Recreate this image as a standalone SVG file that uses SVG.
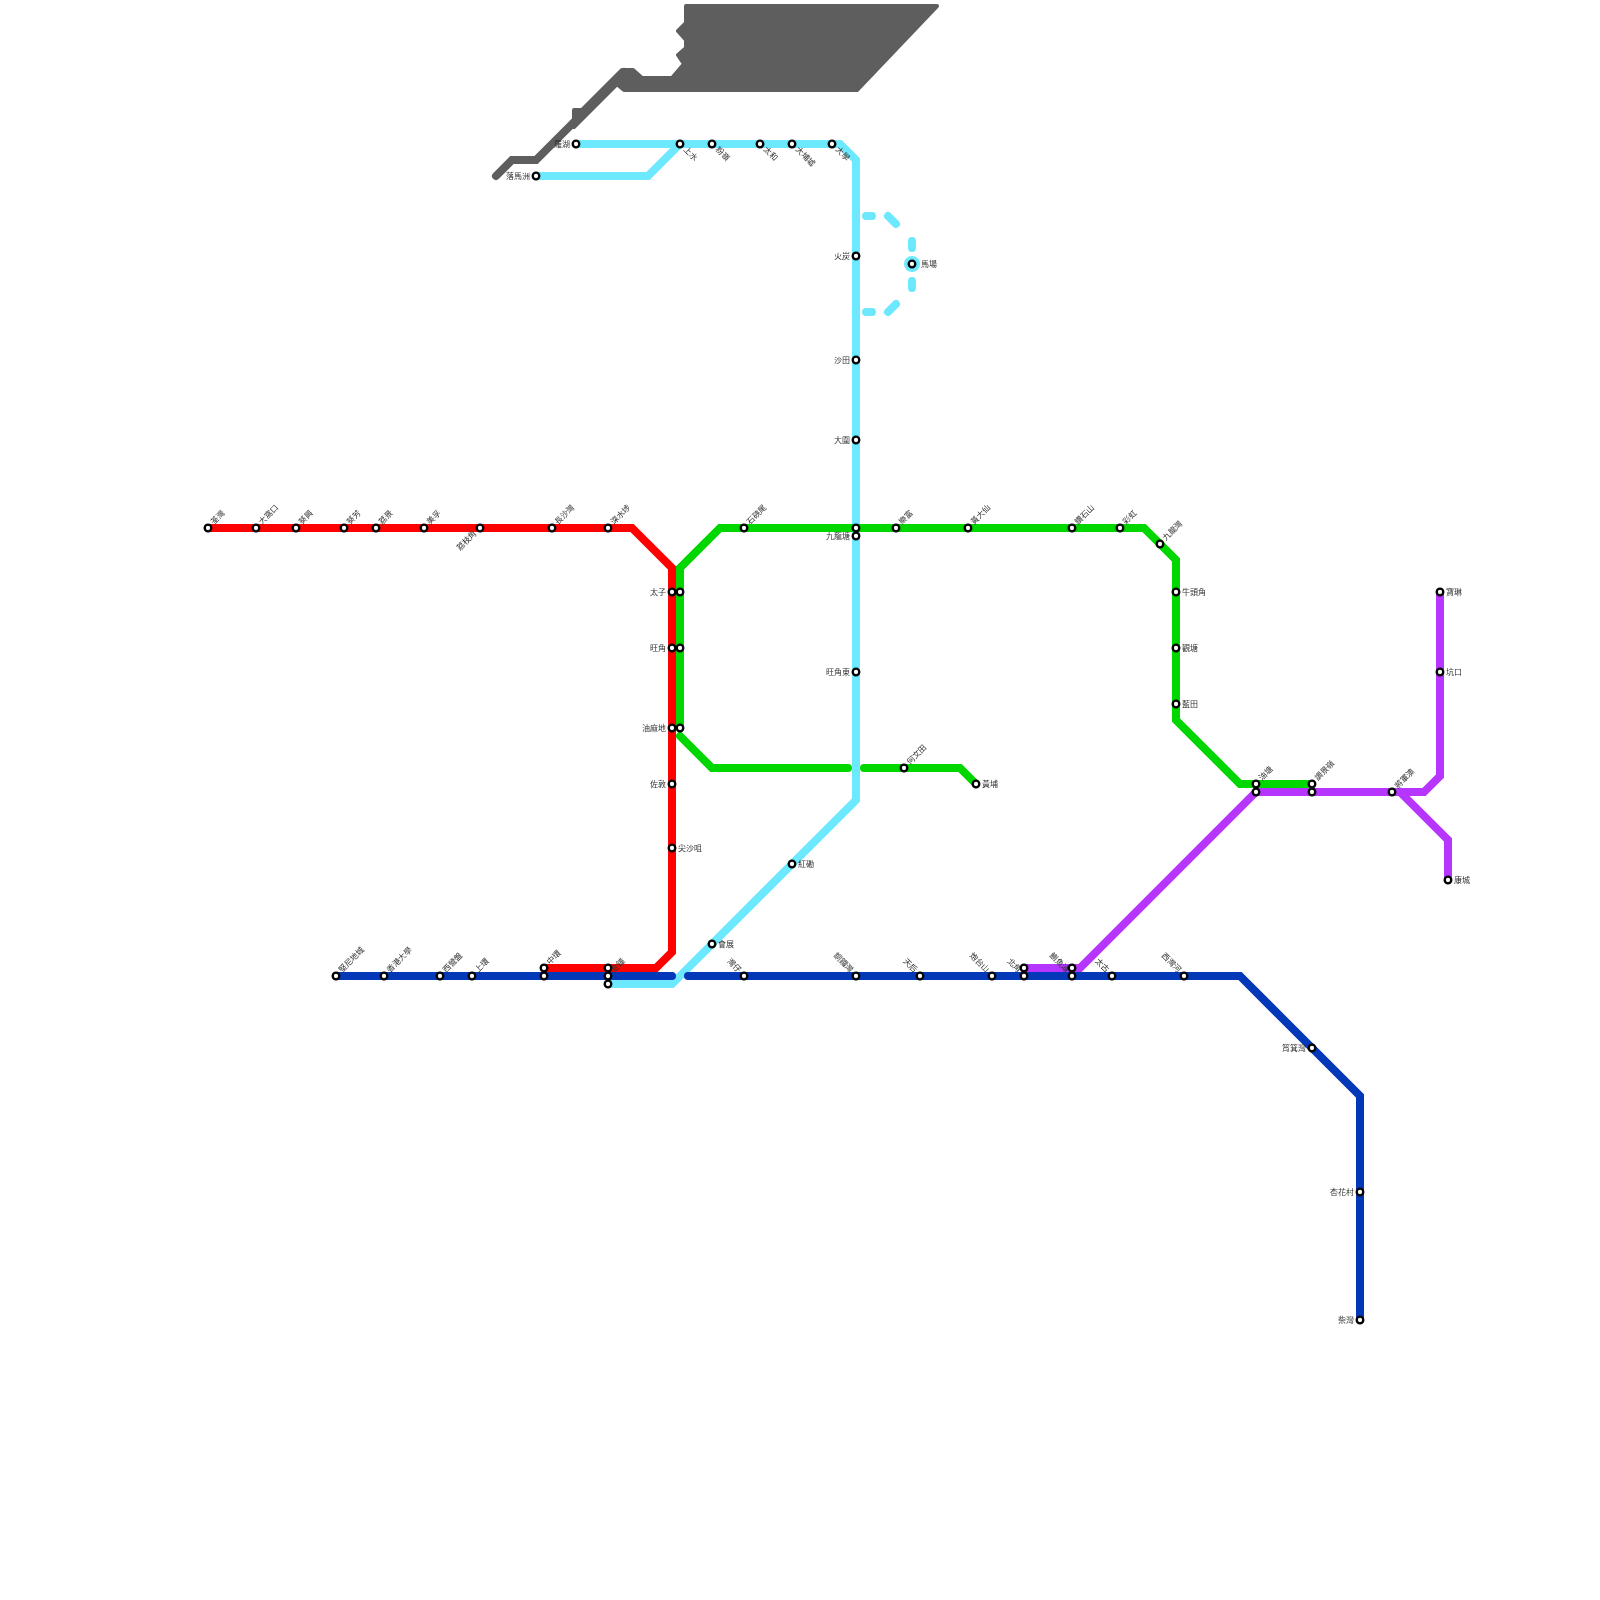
<svg xmlns="http://www.w3.org/2000/svg" width="1600" height="1600" viewBox="0 0 1600 1600">
<style>
text{font-family:"Noto Sans CJK TC","Noto Sans CJK SC",sans-serif;font-size:8px;fill:#333}
.l{fill:none;stroke-width:8;stroke-linecap:round;stroke-linejoin:miter}
.gray{stroke:#5e5e5e}.cyan{stroke:#6ce8ff}.red{stroke:#ff0000}.green{stroke:#00d600}.blue{stroke:#0338b8}.purple{stroke:#b636ff}
#stations{opacity:.999}
.st circle{fill:#fff;stroke:#000;stroke-width:2.3}
.r{transform:translate(6px,3px)}
.rr{transform:translate(9px,3px)}
.w{text-anchor:end;transform:translate(-6px,3px)}
.ur{transform:translate(6px,-3px) rotate(-45deg)}
.dr{transform:translate(3px,6px) rotate(45deg)}
.ul{text-anchor:end;transform:translate(-6px,-3px) rotate(45deg)}
.dl{text-anchor:end;transform:translate(-3px,6px) rotate(-45deg)}
</style>
<g id="connectors">
<path class="l gray" d="M496 176L512 160H536L624 72"/>
<path fill="#5e5e5e" stroke="#5e5e5e" stroke-width="4" stroke-linejoin="round" d="M686 6H937L857 90H624L617 84L574 127V110H582L622 70H633L642 78H672L684 64L678 55L686 48V40L678 31L686 23Z"/>
<path class="l cyan" d="M576 144H840L856 160V800L672 984H608"/>
<path class="l cyan" d="M536 176H648L680 144"/>
<path class="l cyan" d="M866 216H872M888 216L896 224M912 241V248M912 281V288M896 304L888 312M872 312H866"/>
<path class="l red" d="M208 528H632L672 568V952L656 968H544"/>
<path class="l green" d="M680 728V568L720 528H1144L1176 560V720L1240 784H1312"/>
<path class="l green" d="M680 736L712 768H848M864 768H960L976 784"/>
<path class="l blue" d="M336 976H672M688 976H1240L1360 1096V1320"/>
<path class="l purple" d="M1024 968H1080L1256 792H1424L1440 776V592"/>
<path class="l purple" d="M1400 792L1448 840V880"/>
</g>
<circle cx="912" cy="264" r="8" fill="#6ce8ff"/>
<g id="stations" class="st">
<g id="s01" transform="translate(208,528)"><circle r="3.3"/><text class="ur">荃灣</text></g>
<g id="s02" transform="translate(256,528)"><circle r="3.3"/><text class="ur">大窩口</text></g>
<g id="s03" transform="translate(296,528)"><circle r="3.3"/><text class="ur">葵興</text></g>
<g id="s04" transform="translate(344,528)"><circle r="3.3"/><text class="ur">葵芳</text></g>
<g id="s05" transform="translate(376,528)"><circle r="3.3"/><text class="ur">荔景</text></g>
<g id="s06" transform="translate(424,528)"><circle r="3.3"/><text class="ur">美孚</text></g>
<g id="s07" transform="translate(480,528)"><circle r="3.3"/><text class="dl">荔枝角</text></g>
<g id="s08" transform="translate(552,528)"><circle r="3.3"/><text class="ur">長沙灣</text></g>
<g id="s09" transform="translate(608,528)"><circle r="3.3"/><text class="ur">深水埗</text></g>
<g id="s10" transform="translate(672,592)"><circle r="3.3"/><text class="w">太子</text></g>
<g id="s11" transform="translate(672,648)"><circle r="3.3"/><text class="w">旺角</text></g>
<g id="s12" transform="translate(672,728)"><circle r="3.3"/><text class="w">油麻地</text></g>
<g id="s13" transform="translate(672,784)"><circle r="3.3"/><text class="w">佐敦</text></g>
<g id="s14" transform="translate(672,848)"><circle r="3.3"/><text class="r">尖沙咀</text></g>
<g id="s15" transform="translate(544,968)"><circle r="3.3"/><text class="ur">中環</text></g>
<g id="s16" transform="translate(608,968)"><circle r="3.3"/></g>
<g id="s17" transform="translate(680,592)"><circle r="3.3"/></g>
<g id="s18" transform="translate(680,648)"><circle r="3.3"/></g>
<g id="s19" transform="translate(680,728)"><circle r="3.3"/></g>
<g id="s20" transform="translate(744,528)"><circle r="3.3"/><text class="ur">石硤尾</text></g>
<g id="s21" transform="translate(856,528)"><circle r="3.3"/></g>
<g id="s22" transform="translate(896,528)"><circle r="3.3"/><text class="ur">樂富</text></g>
<g id="s23" transform="translate(968,528)"><circle r="3.3"/><text class="ur">黃大仙</text></g>
<g id="s24" transform="translate(1072,528)"><circle r="3.3"/><text class="ur">鑽石山</text></g>
<g id="s25" transform="translate(1120,528)"><circle r="3.3"/><text class="ur">彩虹</text></g>
<g id="s26" transform="translate(1160,544)"><circle r="3.3"/><text class="ur">九龍灣</text></g>
<g id="s27" transform="translate(1176,592)"><circle r="3.3"/><text class="r">牛頭角</text></g>
<g id="s28" transform="translate(1176,648)"><circle r="3.3"/><text class="r">觀塘</text></g>
<g id="s29" transform="translate(1176,704)"><circle r="3.3"/><text class="r">藍田</text></g>
<g id="s30" transform="translate(1256,784)"><circle r="3.3"/><text class="ur">油塘</text></g>
<g id="s31" transform="translate(1312,784)"><circle r="3.3"/><text class="ur">調景嶺</text></g>
<g id="s32" transform="translate(904,768)"><circle r="3.3"/><text class="ur">何文田</text></g>
<g id="s33" transform="translate(976,784)"><circle r="3.3"/><text class="r">黃埔</text></g>
<g id="s34" transform="translate(576,144)"><circle r="3.3"/><text class="w">羅湖</text></g>
<g id="s35" transform="translate(536,176)"><circle r="3.3"/><text class="w">落馬洲</text></g>
<g id="s36" transform="translate(680,144)"><circle r="3.3"/><text class="dr">上水</text></g>
<g id="s37" transform="translate(712,144)"><circle r="3.3"/><text class="dr">粉嶺</text></g>
<g id="s38" transform="translate(760,144)"><circle r="3.3"/><text class="dr">太和</text></g>
<g id="s39" transform="translate(792,144)"><circle r="3.3"/><text class="dr">大埔墟</text></g>
<g id="s40" transform="translate(832,144)"><circle r="3.3"/><text class="dr">大學</text></g>
<g id="s41" transform="translate(856,256)"><circle r="3.3"/><text class="w">火炭</text></g>
<g id="s42" transform="translate(912,264)"><circle r="3.3"/><text class="rr">馬場</text></g>
<g id="s43" transform="translate(856,360)"><circle r="3.3"/><text class="w">沙田</text></g>
<g id="s44" transform="translate(856,440)"><circle r="3.3"/><text class="w">大圍</text></g>
<g id="s45" transform="translate(856,536)"><circle r="3.3"/><text class="w">九龍塘</text></g>
<g id="s46" transform="translate(856,672)"><circle r="3.3"/><text class="w">旺角東</text></g>
<g id="s47" transform="translate(792,864)"><circle r="3.3"/><text class="r">紅磡</text></g>
<g id="s48" transform="translate(712,944)"><circle r="3.3"/><text class="r">會展</text></g>
<g id="s49" transform="translate(608,984)"><circle r="3.3"/></g>
<g id="s50" transform="translate(336,976)"><circle r="3.3"/><text class="ur">堅尼地城</text></g>
<g id="s51" transform="translate(384,976)"><circle r="3.3"/><text class="ur">香港大學</text></g>
<g id="s52" transform="translate(440,976)"><circle r="3.3"/><text class="ur">西營盤</text></g>
<g id="s53" transform="translate(472,976)"><circle r="3.3"/><text class="ur">上環</text></g>
<g id="s54" transform="translate(544,976)"><circle r="3.3"/></g>
<g id="s55" transform="translate(608,976)"><circle r="3.3"/><text class="ur">金鐘</text></g>
<g id="s56" transform="translate(744,976)"><circle r="3.3"/><text class="ul">灣仔</text></g>
<g id="s57" transform="translate(856,976)"><circle r="3.3"/><text class="ul">銅鑼灣</text></g>
<g id="s58" transform="translate(920,976)"><circle r="3.3"/><text class="ul">天后</text></g>
<g id="s59" transform="translate(992,976)"><circle r="3.3"/><text class="ul">炮台山</text></g>
<g id="s60" transform="translate(1024,976)"><circle r="3.3"/><text class="ul">北角</text></g>
<g id="s61" transform="translate(1072,976)"><circle r="3.3"/><text class="ul">鰂魚涌</text></g>
<g id="s62" transform="translate(1112,976)"><circle r="3.3"/><text class="ul">太古</text></g>
<g id="s63" transform="translate(1184,976)"><circle r="3.3"/><text class="ul">西灣河</text></g>
<g id="s64" transform="translate(1312,1048)"><circle r="3.3"/><text class="w">筲箕灣</text></g>
<g id="s65" transform="translate(1360,1192)"><circle r="3.3"/><text class="w">杏花村</text></g>
<g id="s66" transform="translate(1360,1320)"><circle r="3.3"/><text class="w">柴灣</text></g>
<g id="s67" transform="translate(1024,968)"><circle r="3.3"/></g>
<g id="s68" transform="translate(1072,968)"><circle r="3.3"/></g>
<g id="s69" transform="translate(1256,792)"><circle r="3.3"/></g>
<g id="s70" transform="translate(1312,792)"><circle r="3.3"/></g>
<g id="s71" transform="translate(1392,792)"><circle r="3.3"/><text class="ur">將軍澳</text></g>
<g id="s72" transform="translate(1440,592)"><circle r="3.3"/><text class="r">寶琳</text></g>
<g id="s73" transform="translate(1440,672)"><circle r="3.3"/><text class="r">坑口</text></g>
<g id="s74" transform="translate(1448,880)"><circle r="3.3"/><text class="r">康城</text></g>
</g>
</svg>
